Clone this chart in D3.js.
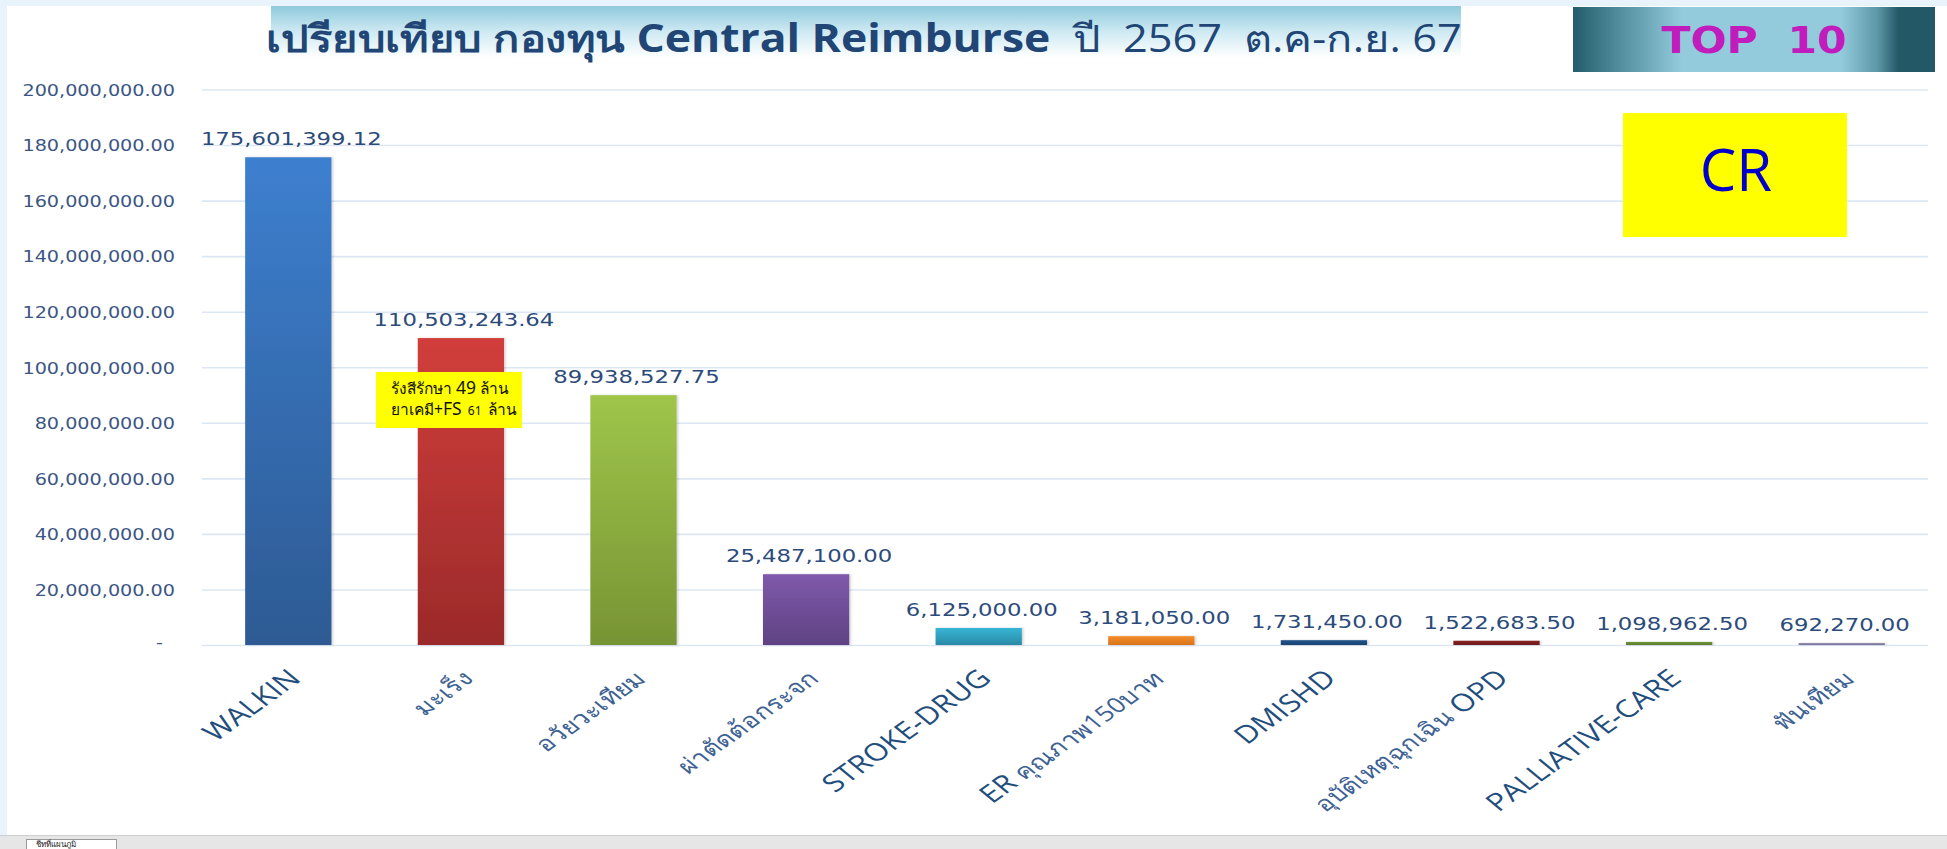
<!DOCTYPE html>
<html>
<head>
<meta charset="utf-8">
<script src="https://cdn.jsdelivr.net/npm/d3@7/dist/d3.min.js"></script>
<style>
  html, body { margin: 0; padding: 0; background: #ffffff; }
  svg { display: block; }
  text { white-space: pre; }
</style>
</head>
<body>
<svg id="chart" width="1947" height="849"></svg>
<script>
// ---------------- DATA ----------------
const categories = ["WALKIN", "มะเร็ง", "อวัยวะเทียม", "ผ่าตัดต้อกระจก", "STROKE-DRUG",
  "ER คุณภาพ150บาท", "DMISHD", "อุบัติเหตุฉุกเฉิน OPD", "PALLIATIVE-CARE", "ฟันเทียม"];
const values = [175601399.12, 110503243.64, 89938527.75, 25487100.00, 6125000.00,
  3181050.00, 1731450.00, 1522683.50, 1098962.50, 692270.00];
const yTicks = [0, 20000000, 40000000, 60000000, 80000000, 100000000,
  120000000, 140000000, 160000000, 180000000, 200000000];
const titleParts = ["เปรียบเทียบ กองทุน ", "Central Reimburse", "  ปี  2567  ต.ค-ก.ย. 67"];
const badgeText = "TOP  10";
const fundText = "CR";
const noteLine1 = ["รังสีรักษา ", "49", " ล้าน"];
const noteLine2 = ["ยาเคมี+", "FS", "  61  ", "ล้าน"];
const sheetTab = "ชีทที่แผนภูมิ";

// ---------------- STYLE ----------------
const barTop = ["#3d7fcf", "#d13e3b", "#9fc54a", "#7f59ab", "#37b6d6", "#f58d29", "#22548a", "#862323", "#6f9438", "#9089ad"];
const barBottom = ["#2d5a93", "#9b2a2a", "#779434", "#5f4283", "#2a8aa6", "#d7741a", "#1c4372", "#6f1a1a", "#5d7c2d", "#7a7398"];

const W = 1947, H = 849;
const svg = d3.select("#chart");
const defs = svg.append("defs");

// background frame
svg.append("rect").attr("x", 0).attr("y", 0).attr("width", W).attr("height", H).attr("fill", "#e8f3fc");
svg.append("rect").attr("x", 7).attr("y", 6).attr("width", W - 7).attr("height", 829).attr("fill", "#ffffff");
svg.append("rect").attr("x", 0).attr("y", 835).attr("width", W).attr("height", 14).attr("fill", "#e6e6e6");
svg.append("line").attr("x1", 0).attr("x2", W).attr("y1", 835.5).attr("y2", 835.5).attr("stroke", "#cfcfcf");
svg.append("rect").attr("x", 26.5).attr("y", 839.5).attr("width", 90).attr("height", 12).attr("fill", "#fff").attr("stroke", "#9a9a9a");
svg.append("text").attr("x", 36).attr("y", 847).attr("font-family", "Noto Sans, DejaVu Sans, sans-serif").attr("font-size", 8).attr("fill", "#222").text(sheetTab);

// scales
const x = d3.scaleBand().domain(categories).range([202, 1928]).paddingInner(0.5).paddingOuter(0.25);
const y = d3.scaleLinear().domain([0, 200000000]).range([645, 89.5]);

// gridlines
svg.append("g")
  .attr("transform", "translate(202,0)")
  .call(d3.axisLeft(y).tickValues(yTicks).tickSize(-(1928 - 202)).tickFormat(""))
  .call(g => g.select(".domain").remove())
  .call(g => g.selectAll(".tick line").attr("stroke", "#dde7f3").attr("stroke-width", 1.6));

// y labels
const fmt = d3.format(",.2f");
svg.append("g")
  .attr("transform", "translate(202,0)")
  .call(d3.axisLeft(y).tickValues(yTicks).tickSize(0).tickPadding(27).tickFormat(d => d === 0 ? "-" : fmt(d)))
  .call(g => g.select(".domain").remove())
  .call(g => g.selectAll(".tick text")
    .attr("x", 0).attr("dy", "0.36em")
    .attr("transform", d => d === 0 ? "translate(-39,-3) scale(1.2,1)" : "translate(-27,0) scale(1.2,1)")
    .attr("font-family", "DejaVu Sans, Verdana, sans-serif")
    .attr("font-size", 16)
    .attr("fill", "#3b5684"));

// bar gradients
values.forEach((v, i) => {
  const lg = defs.append("linearGradient").attr("id", "bg" + i)
    .attr("x1", 0).attr("y1", 0).attr("x2", 0).attr("y2", 1);
  lg.append("stop").attr("offset", "0%").attr("stop-color", barTop[i]);
  lg.append("stop").attr("offset", "100%").attr("stop-color", barBottom[i]);
});
const sh = defs.append("filter").attr("id", "shadow").attr("x", "-10%").attr("y", "-10%").attr("width", "130%").attr("height", "130%");
sh.append("feDropShadow").attr("dx", 1.5).attr("dy", 0).attr("stdDeviation", 1.2).attr("flood-color", "#000").attr("flood-opacity", 0.18);

// bars
svg.append("g").selectAll("rect").data(values).join("rect")
  .attr("x", (d, i) => x(categories[i]))
  .attr("y", d => y(d))
  .attr("width", x.bandwidth())
  .attr("height", d => y(0) - y(d))
  .attr("fill", (d, i) => `url(#bg${i})`)
  .attr("filter", "url(#shadow)");

// value labels
svg.append("g").selectAll("text").data(values).join("text")
  .attr("transform", (d, i) => `translate(${x(categories[i]) + x.bandwidth() / 2 + 3},${y(d) - 12}) scale(1.23,1)`)
  .attr("text-anchor", "middle")
  .attr("font-family", "DejaVu Sans, Verdana, sans-serif")
  .attr("font-size", 18.5)
  .attr("fill", "#2c4b7b")
  .text(d => fmt(d));

// x labels (rotated)
const xl = svg.append("g").selectAll("text").data(categories).join("text")
  .attr("transform", d => `translate(${x(d) + x.bandwidth() / 2 + 4},${672}) scale(1.3,1) rotate(-43)`)
  .attr("text-anchor", "end")
  .attr("dy", "0.7em")
  .attr("font-family", "Open Sans, Noto Sans, sans-serif");
xl.each(function (d) {
  const t = d3.select(this);
  const parts = d.match(/[A-Z\-]+|[^A-Z\-]+/g);
  parts.forEach(p => {
    const latin = /^[A-Z\-]+$/.test(p);
    t.append("tspan").text(p)
      .attr("font-size", latin ? 24.5 : 21)
      .attr("fill", latin ? "#1f4e7d" : "#3d6192");
  });
});

// title banner
const tg = defs.append("linearGradient").attr("id", "titleGrad").attr("x1", 0).attr("y1", 0).attr("x2", 0).attr("y2", 1);
tg.append("stop").attr("offset", "0%").attr("stop-color", "#8fcadc");
tg.append("stop").attr("offset", "50%").attr("stop-color", "#cfeaf3");
tg.append("stop").attr("offset", "100%").attr("stop-color", "#ffffff");
svg.append("rect").attr("x", 271).attr("y", 6).attr("width", 1190).attr("height", 52).attr("fill", "url(#titleGrad)");
const title = svg.append("text")
  .attr("transform", "translate(864,52) scale(1.14,1)")
  .attr("text-anchor", "middle")
  .attr("fill", "#214676")
  .attr("font-family", "Open Sans, Noto Sans, sans-serif");
title.append("tspan").attr("font-size", 38).attr("font-weight", 600).text(titleParts[0]);
title.append("tspan").attr("font-size", 39).attr("font-weight", "bold").text(titleParts[1]);
title.append("tspan").attr("font-size", 38).text(titleParts[2]);

// TOP 10 badge
const bgG = defs.append("linearGradient").attr("id", "badgeGrad").attr("x1", 0).attr("y1", 0).attr("x2", 1).attr("y2", 0);
[[0, "#245d6b"], [0.07, "#3b7886"], [0.3, "#93cbdc"], [0.74, "#93cbdc"], [0.84, "#5e98a8"], [0.9, "#235866"], [1, "#235866"]]
  .forEach(s => bgG.append("stop").attr("offset", s[0]).attr("stop-color", s[1]));
svg.append("rect").attr("x", 1573).attr("y", 7).attr("width", 362).attr("height", 65).attr("fill", "url(#badgeGrad)");
svg.append("text").attr("transform", "translate(1754,53) scale(1.12,1)").attr("text-anchor", "middle")
  .attr("font-family", "DejaVu Sans, sans-serif").attr("font-weight", "bold").attr("font-size", 38)
  .attr("fill", "#c11cbc").text(badgeText);

// CR box
svg.append("rect").attr("x", 1623).attr("y", 113).attr("width", 224).attr("height", 124).attr("fill", "#ffff00");
svg.append("text").attr("x", 1736).attr("y", 191).attr("text-anchor", "middle")
  .attr("font-family", "Open Sans, Noto Sans, sans-serif").attr("font-size", 58)
  .attr("fill", "#0000cc").text(fundText);

// annotation box
svg.append("rect").attr("x", 376).attr("y", 372).attr("width", 146).attr("height", 56).attr("fill", "#ffff00");
const n1 = svg.append("text").attr("x", 391).attr("y", 394).attr("fill", "#111").attr("font-family", "Noto Sans, DejaVu Sans, sans-serif");
n1.append("tspan").attr("font-size", 15.5).text(noteLine1[0]);
n1.append("tspan").attr("font-size", 17.5).text(noteLine1[1]);
n1.append("tspan").attr("font-size", 15.5).text(noteLine1[2]);
const n2 = svg.append("text").attr("x", 391).attr("y", 415).attr("fill", "#111").attr("font-family", "Noto Sans, DejaVu Sans, sans-serif");
n2.append("tspan").attr("font-size", 15.5).text(noteLine2[0]);
n2.append("tspan").attr("font-size", 17.5).text(noteLine2[1]);
n2.append("tspan").attr("font-size", 12).text(noteLine2[2]);
n2.append("tspan").attr("font-size", 15.5).text(noteLine2[3]);
</script>
</body>
</html>
